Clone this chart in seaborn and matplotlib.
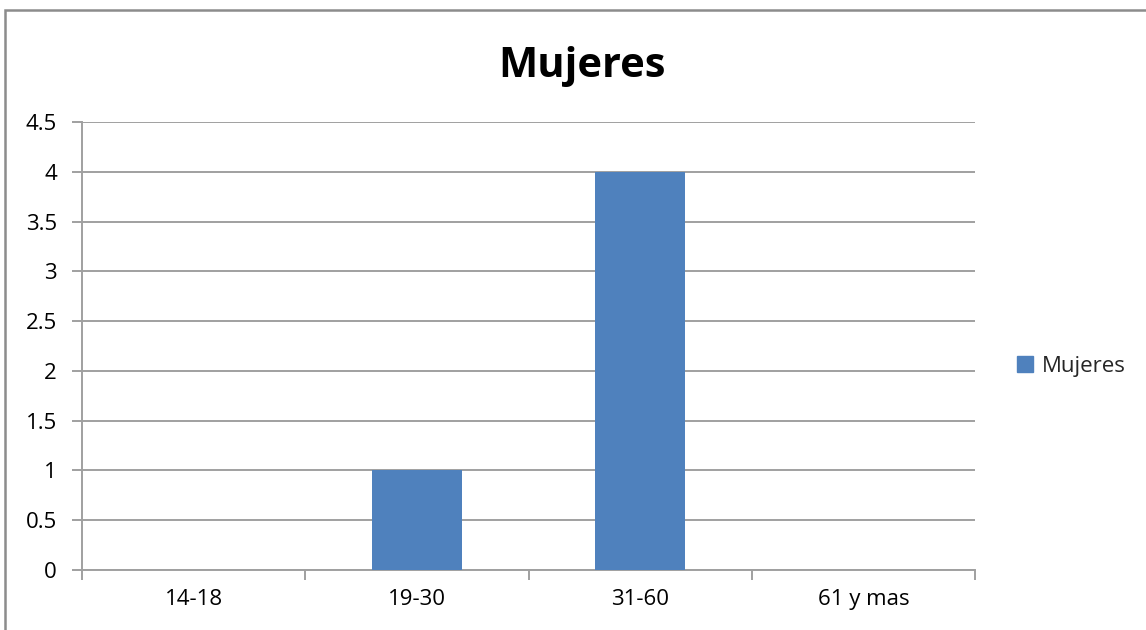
import matplotlib
matplotlib.use("Agg")
import matplotlib.pyplot as plt
import matplotlib.patches as mpatches
import seaborn as sns
import pandas as pd

# data
categories = ["14-18", "19-30", "31-60", "61 y mas"]
mujeres = [0, 1, 4, 0]
yticks = [0, 0.5, 1, 1.5, 2, 2.5, 3, 3.5, 4, 4.5]
ytick_labels = ["0", "0.5", "1", "1.5", "2", "2.5", "3", "3.5", "4", "4.5"]

df = pd.DataFrame({"rango": categories, "Mujeres": mujeres})

sns.set_style("white")
plt.rcParams["font.family"] = ["Open Sans", "DejaVu Sans"]

W, H = 1146, 630
fig = plt.figure(figsize=(W / 100, H / 100), dpi=100)
ax = fig.add_axes([82 / W, 1 - 570 / H, (975 - 82) / W, (570 - 122) / H])

bar_color = "#4F81BD"
sns.barplot(data=df, x="rango", y="Mujeres", color=bar_color, width=0.4,
            saturation=1, edgecolor="none", linewidth=0, ax=ax, zorder=3)

ax.set_xlim(-0.5, len(categories) - 0.5)
ax.set_ylim(0, 4.5)
ax.set_yticks(yticks)
ax.set_yticklabels(ytick_labels)
ax.set_xlabel("")
ax.set_ylabel("")

grid_c = "#A0A0A0"
ax.yaxis.grid(True, color=grid_c, linewidth=1.4, zorder=0)
ax.set_axisbelow(True)
for side in ["top", "right"]:
    ax.spines[side].set_visible(False)
for side in ["left", "bottom"]:
    ax.spines[side].set_color(grid_c)
    ax.spines[side].set_linewidth(1.4)

# x ticks at category boundaries, labels at centers
ax.set_xticks([i - 0.5 for i in range(len(categories) + 1)], minor=False)
ax.set_xticklabels([""] * (len(categories) + 1))
ax.set_xticks(range(len(categories)), minor=True)
ax.set_xticklabels(categories, minor=True)
ax.tick_params(axis="x", which="major", bottom=True, direction="out", length=7,
               color=grid_c, width=1.4)
ax.tick_params(axis="x", which="minor", bottom=False, length=0, pad=14,
               labelsize=16, labelcolor="black")
ax.tick_params(axis="y", left=True, direction="out", length=7, color=grid_c,
               width=1.4, pad=11, labelsize=16, labelcolor="black")

fig.text(582 / W, 1 - 77 / H, "Mujeres", fontsize=30, fontweight="bold",
         ha="center", va="baseline", color="black")

handle = mpatches.Patch(color=bar_color, label="Mujeres")
ax.legend(handles=[handle], loc="center left", bbox_to_anchor=(1.025, 0.455),
          frameon=False, fontsize=16, handlelength=0.7, handleheight=0.7,
          handletextpad=0.4)

# outer chart border
border = mpatches.Rectangle((5 / W, -0.02), 1.0, 1 - 10 / H + 0.02,
                            transform=fig.transFigure, fill=False,
                            edgecolor="#8C8C8C", linewidth=1.8)
fig.patches.append(border)

fig.savefig("out.png", dpi=100)
